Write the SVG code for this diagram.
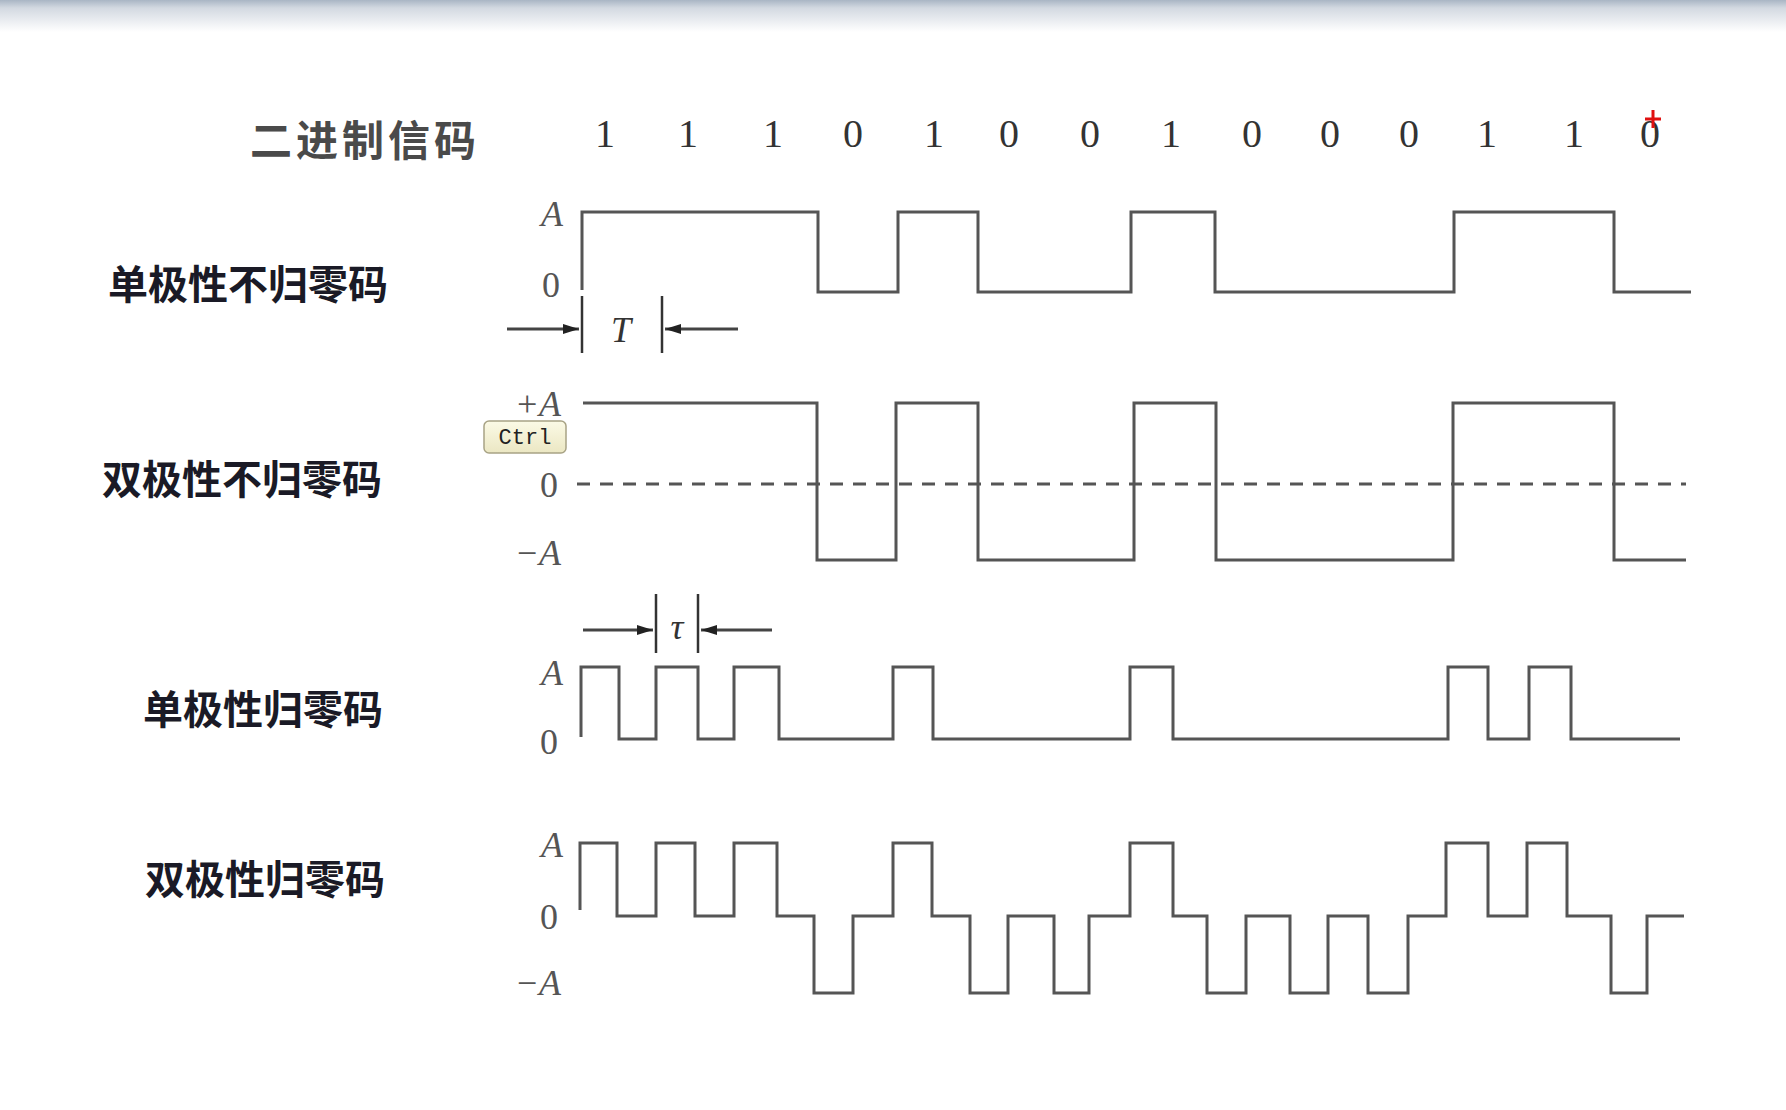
<svg xmlns="http://www.w3.org/2000/svg" width="1786" height="1110" viewBox="0 0 1786 1110">
  <defs>
    <linearGradient id="topbar" x1="0" y1="0" x2="0" y2="1">
      <stop offset="0" stop-color="#a9b5c4"/>
      <stop offset="0.25" stop-color="#d3d9e1"/>
      <stop offset="1" stop-color="#ffffff"/>
    </linearGradient>
    <linearGradient id="tip" x1="0" y1="0" x2="0" y2="1">
      <stop offset="0" stop-color="#fbfae6"/>
      <stop offset="1" stop-color="#ebe7c3"/>
    </linearGradient>
    <marker id="arr" viewBox="0 0 16 10" refX="16" refY="5" markerWidth="16" markerHeight="10" markerUnits="userSpaceOnUse" orient="auto">
      <path d="M0,0 L16,5 L0,10 Z" fill="#222"/>
    </marker>
    <style>
      .wave { fill: none; stroke: #555; stroke-width: 3; stroke-linejoin: miter; }
      .dash { fill: none; stroke: #555; stroke-width: 3; stroke-dasharray: 13 10; }
      .dim { fill: none; stroke: #444; stroke-width: 3; }
      .tick { stroke: #333; stroke-width: 2.5; }
      .name { font-family: "Noto Sans CJK SC", sans-serif; font-weight: bold; font-size: 40px; fill: #1a1a26; dominant-baseline: central; }
      .title { font-family: "Noto Sans CJK SC", sans-serif; font-weight: bold; font-size: 42px; fill: #4a4a4a; letter-spacing: 4px; dominant-baseline: central; }
      .bit { font-family: "Liberation Serif", serif; font-size: 40px; fill: #333; text-anchor: middle; dominant-baseline: central; }
      .ax { font-family: "Liberation Serif", serif; font-style: italic; font-size: 36px; fill: #555; text-anchor: end; dominant-baseline: central; }
      .ax0 { font-family: "Liberation Serif", serif; font-size: 36px; fill: #555; text-anchor: end; dominant-baseline: central; }
      .sym { font-family: "Liberation Serif", serif; font-style: italic; font-size: 36px; fill: #333; text-anchor: middle; dominant-baseline: central; }
    </style>
  </defs>

  <rect x="0" y="0" width="1786" height="1110" fill="#ffffff"/>
  <rect x="0" y="0" width="1786" height="32" fill="url(#topbar)"/>

  <g id="binary-code">
    <text class="title" x="250" y="137">二进制信码</text>
    <text class="bit" x="605" y="133">1</text>
    <text class="bit" x="688" y="133">1</text>
    <text class="bit" x="773" y="133">1</text>
    <text class="bit" x="853" y="133">0</text>
    <text class="bit" x="934" y="133">1</text>
    <text class="bit" x="1009" y="133">0</text>
    <text class="bit" x="1090" y="133">0</text>
    <text class="bit" x="1171" y="133">1</text>
    <text class="bit" x="1252" y="133">0</text>
    <text class="bit" x="1330" y="133">0</text>
    <text class="bit" x="1409" y="133">0</text>
    <text class="bit" x="1487" y="133">1</text>
    <text class="bit" x="1574" y="133">1</text>
    <text class="bit" x="1650" y="133">0</text>
    <path d="M1653,110 V128 M1645,119 H1661" stroke="#e01010" stroke-width="3"/>
  </g>

  <g id="unipolar-nrz">
    <text class="name" x="108" y="282">单极性不归零码</text>
    <text class="ax" x="563" y="214">A</text>
    <text class="ax0" x="560" y="285">0</text>
    <path class="wave" d="M582,290 V212 H818 V292 H898 V212 H978 V292 H1131 V212 H1215 V292 H1454 V212 H1614 V292 H1691"/>
  </g>

  <g id="bipolar-nrz">
    <text class="name" x="102" y="477">双极性不归零码</text>
    <text class="ax" x="561" y="404">+A</text>
    <text class="ax0" x="558" y="485">0</text>
    <text class="ax" x="561" y="553">−A</text>
    <path class="dash" d="M577,484 H1686"/>
    <path class="wave" d="M583,403 H817 V560 H896 V403 H978 V560 H1134 V403 H1216 V560 H1453 V403 H1614 V560 H1686"/>
  </g>

  <g id="unipolar-rz">
    <text class="name" x="143" y="707">单极性归零码</text>
    <text class="ax" x="563" y="673">A</text>
    <text class="ax0" x="558" y="742">0</text>
    <path class="wave" d="M581,737 V667 H619 V739 H656 V667 H698 V739 H734 V667 H779 V739 H893 V667 H933 V739 H1130 V667 H1173 V739 H1448 V667 H1488 V739 H1529 V667 H1571 V739 H1680"/>
  </g>

  <g id="bipolar-rz">
    <text class="name" x="145" y="877">双极性归零码</text>
    <text class="ax" x="563" y="845">A</text>
    <text class="ax0" x="558" y="917">0</text>
    <text class="ax" x="561" y="983">−A</text>
    <path class="wave" d="M580,910 V843 H617 V916 H656 V843 H695 V916 H734 V843 H777 V916 H814 V993 H853 V916 H893 V843 H932 V916 H970 V993 H1008 V916 H1054 V993 H1089 V916 H1130 V843 H1173 V916 H1207 V993 H1246 V916 H1290 V993 H1328 V916 H1368 V993 H1408 V916 H1446 V843 H1488 V916 H1527 V843 H1567 V916 H1611 V993 H1647 V916 H1684"/>
  </g>

  <g id="connectors">
    <g id="period-T">
      <line class="dim" x1="507" y1="329" x2="579" y2="329" marker-end="url(#arr)"/>
      <line class="tick" x1="582" y1="296" x2="582" y2="353"/>
      <line class="tick" x1="662" y1="296" x2="662" y2="353"/>
      <line class="dim" x1="738" y1="329" x2="665" y2="329" marker-end="url(#arr)"/>
      <text class="sym" x="621" y="330">T</text>
    </g>
    <g id="width-tau">
      <line class="dim" x1="583" y1="630" x2="653" y2="630" marker-end="url(#arr)"/>
      <line class="tick" x1="656" y1="594" x2="656" y2="653"/>
      <line class="tick" x1="698" y1="594" x2="698" y2="653"/>
      <line class="dim" x1="772" y1="630" x2="701" y2="630" marker-end="url(#arr)"/>
      <text class="sym" x="677" y="627" font-size="32">τ</text>
    </g>
  </g>

  <g id="ctrl-tooltip">
    <rect x="484" y="421" width="82" height="32" rx="5" ry="5" fill="url(#tip)" stroke="#a8a385" stroke-width="1.5"/>
    <text x="525" y="438" font-family="Liberation Mono, DejaVu Sans Mono, monospace" font-size="22" fill="#222" text-anchor="middle" dominant-baseline="central">Ctrl</text>
  </g>
</svg>
